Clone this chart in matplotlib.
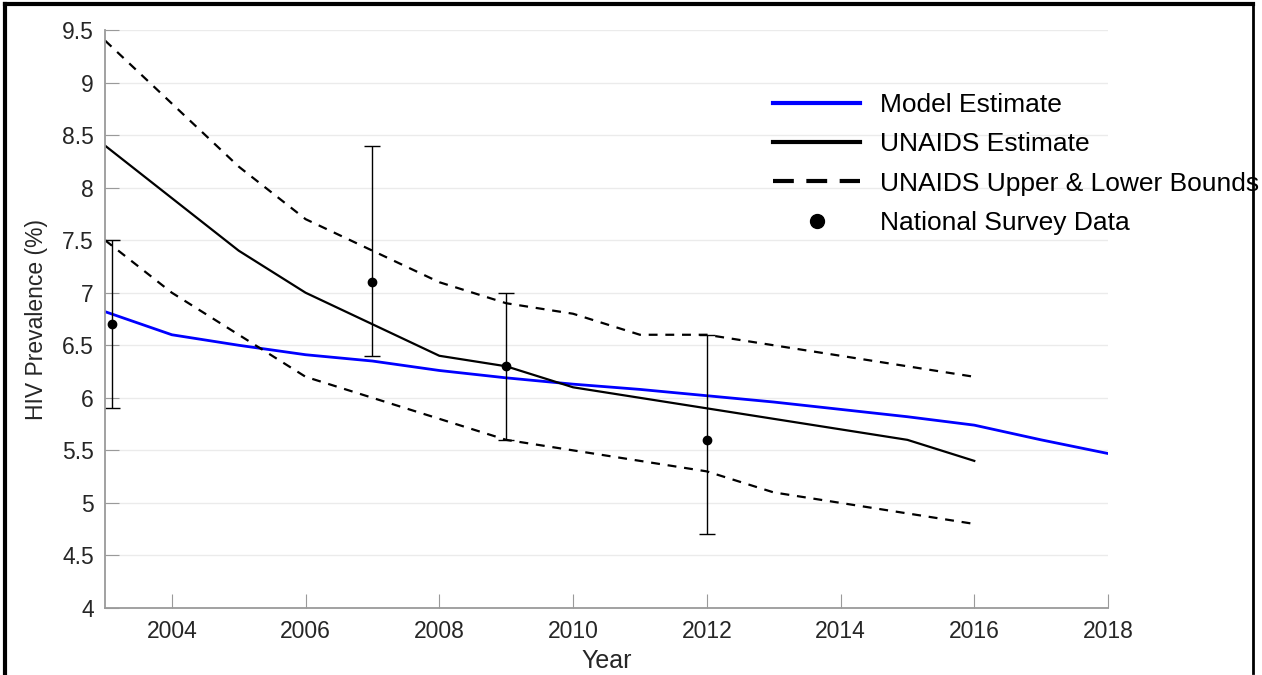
import matplotlib.pyplot as plt
from matplotlib.lines import Line2D

plt.rcParams['font.family'] = ['Liberation Sans', 'DejaVu Sans']

# Model estimate (blue)
model_years = [2003, 2004, 2005, 2006, 2007, 2008, 2009, 2010, 2011, 2012,
               2013, 2014, 2015, 2016, 2017, 2018]
model_vals = [6.82, 6.60, 6.50, 6.41, 6.35, 6.26, 6.19, 6.13, 6.08, 6.02,
              5.96, 5.89, 5.82, 5.74, 5.60, 5.47]

# UNAIDS estimate and bounds
unaids_years = list(range(2003, 2017))
unaids_est = [8.4, 7.9, 7.4, 7.0, 6.7, 6.4, 6.3, 6.1, 6.0, 5.9, 5.8, 5.7, 5.6, 5.4]
unaids_upper = [9.4, 8.8, 8.2, 7.7, 7.4, 7.1, 6.9, 6.8, 6.6, 6.6, 6.5, 6.4, 6.3, 6.2]
unaids_lower = [7.5, 7.0, 6.6, 6.2, 6.0, 5.8, 5.6, 5.5, 5.4, 5.3, 5.1, 5.0, 4.9, 4.8]

# National survey data with ranges
survey_years = [2003.1, 2007, 2009, 2012]
survey_vals = [6.7, 7.1, 6.3, 5.6]
survey_low = [5.9, 6.4, 5.6, 4.7]
survey_high = [7.5, 8.4, 7.0, 6.6]

fig = plt.figure(figsize=(12.62, 6.75), dpi=100)
ax = fig.add_axes([105 / 1262, 1 - 608 / 675, (1108 - 105) / 1262, (608 - 30) / 675])

ax.plot(model_years, model_vals, color='#0000ff', lw=2, label='Model Estimate')
ax.plot(unaids_years, unaids_est, color='black', lw=1.6, label='UNAIDS Estimate')
ax.plot(unaids_years, unaids_upper, color='black', lw=1.6, ls=(0, (4, 3.5)),
        label='UNAIDS Upper & Lower Bounds')
ax.plot(unaids_years, unaids_lower, color='black', lw=1.6, ls=(0, (4, 3.5)))
err = [[v - lo for v, lo in zip(survey_vals, survey_low)],
       [hi - v for v, hi in zip(survey_vals, survey_high)]]
ax.errorbar(survey_years, survey_vals, yerr=err, fmt='o', color='black', ms=6,
            ecolor='black', elinewidth=1, capsize=6, capthick=1,
            label='National Survey Data')

ax.set_xlim(2003, 2018)
ax.set_ylim(4, 9.5)
ax.set_xticks(range(2004, 2019, 2))
ax.set_yticks([4, 4.5, 5, 5.5, 6, 6.5, 7, 7.5, 8, 8.5, 9, 9.5])
ax.set_yticklabels(['4', '4.5', '5', '5.5', '6', '6.5', '7', '7.5', '8', '8.5', '9', '9.5'])
ax.grid(axis='y', color='#ebebeb', lw=1)
ax.set_axisbelow(True)
for s in ['top', 'right']:
    ax.spines[s].set_visible(False)
for s in ['left', 'bottom']:
    ax.spines[s].set_color('#9a9a9a')
    ax.spines[s].set_linewidth(1.3)
ax.tick_params(direction='in', length=10, color='#9a9a9a', labelsize=16.5,
               labelcolor='#262626')
ax.tick_params(axis='x', pad=9)
ax.tick_params(axis='y', pad=8)
ax.set_xlabel('Year', fontsize=18, color='#262626', labelpad=4)
ax.set_ylabel('HIV Prevalence (%)', fontsize=16.5, color='#262626', labelpad=10)

handles = [
    Line2D([], [], color='#0000ff', lw=3),
    Line2D([], [], color='black', lw=3),
    Line2D([], [], color='black', lw=3, ls=(0, (5, 3))),
    Line2D([], [], color='black', marker='o', ms=10, ls='none'),
]
labels = ['Model Estimate', 'UNAIDS Estimate', 'UNAIDS Upper & Lower Bounds',
          'National Survey Data']
ax.legend(handles, labels, loc='upper left', bbox_to_anchor=(0.666, 0.891),
          frameon=False, fontsize=19, handlelength=3.3, handletextpad=0.75,
          labelspacing=0.58, borderpad=0, borderaxespad=0)

# outer frame (top, left, right)
fig.add_artist(Line2D([5 / 1262, 5 / 1262], [0, 1 - 4 / 675], color='black', lw=3,
                      transform=fig.transFigure))
fig.add_artist(Line2D([5 / 1262, 1253 / 1262], [1 - 4 / 675, 1 - 4 / 675], color='black',
                      lw=3, transform=fig.transFigure))
fig.add_artist(Line2D([1253 / 1262, 1253 / 1262], [1 - 3 / 675, 1 - 673 / 675],
                      color='black', lw=2, transform=fig.transFigure))

fig.savefig('out.png', dpi=100, facecolor='white')
